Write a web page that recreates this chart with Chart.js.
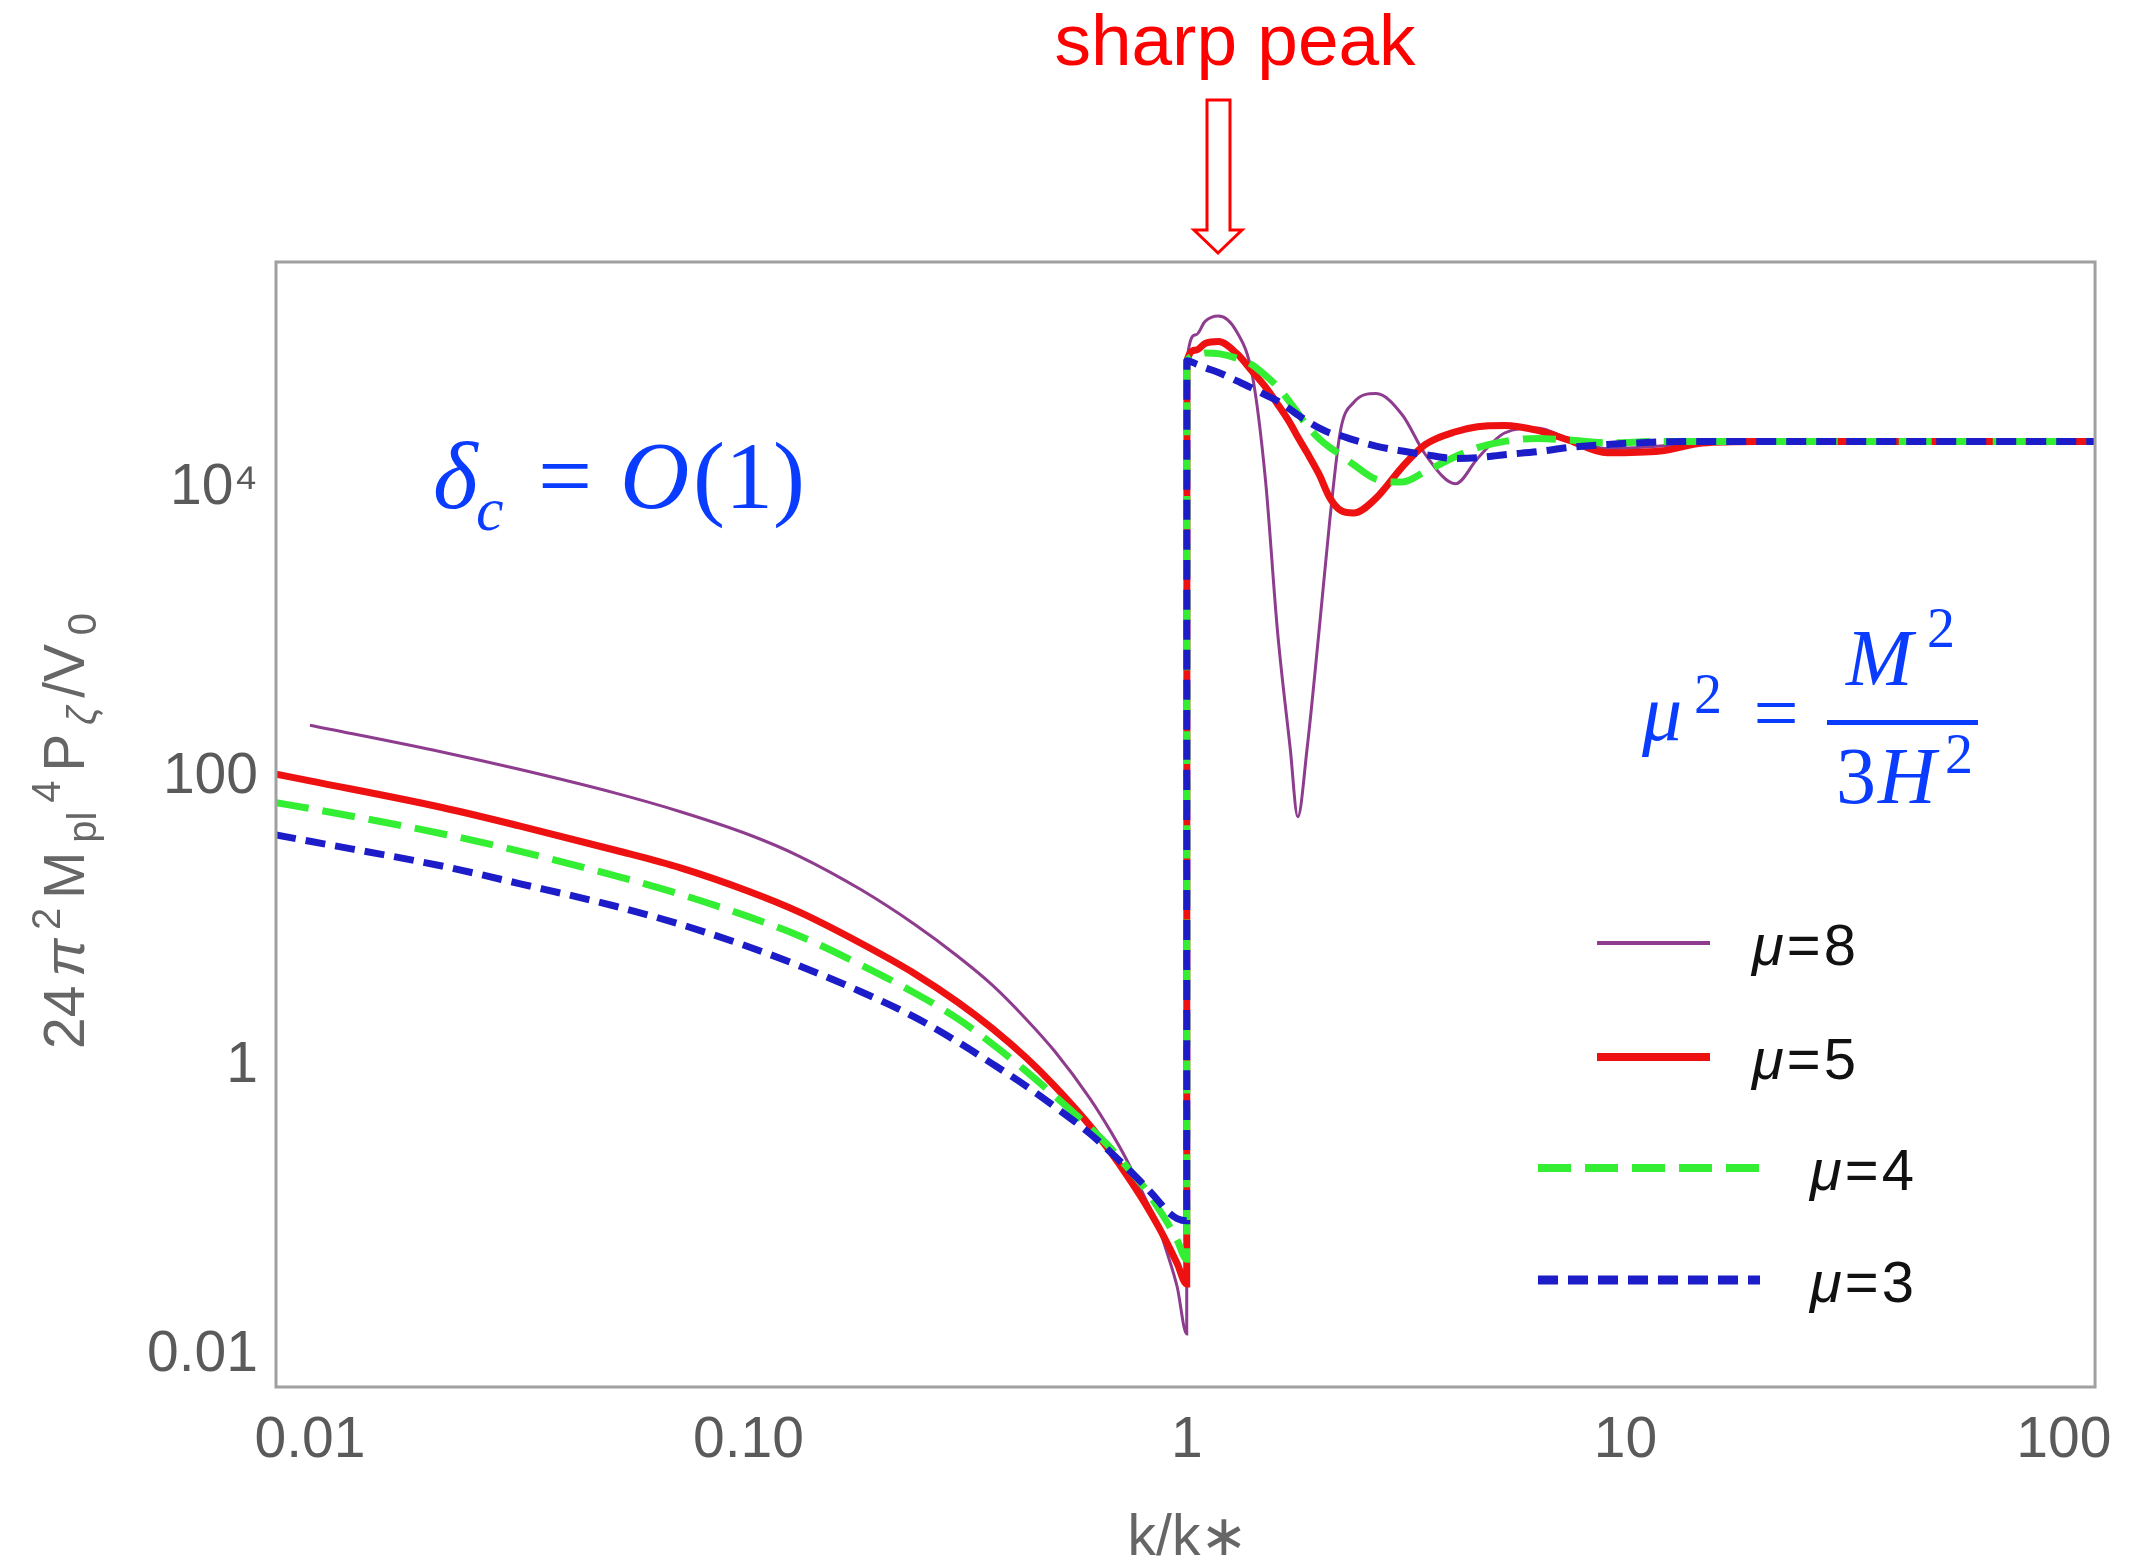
<!DOCTYPE html>
<html>
<head>
<meta charset="utf-8">
<script src="https://cdn.jsdelivr.net/npm/chart.js@4.4.1/dist/chart.umd.min.js"></script>
<style>
  html, body { margin: 0; padding: 0; background: #fff; }
  canvas { display: block; }
</style>
</head>
<body>
<canvas id="myChart" width="2132" height="1562"></canvas>
<script>
// k/k* sample points (shared by all curves)
const kValues = [0.00837, 0.01, 0.02, 0.03, 0.05, 0.07, 0.1, 0.13, 0.18, 0.24, 0.3, 0.36, 0.43, 0.5, 0.6, 0.67,
  0.73, 0.8, 0.86, 0.9, 0.95, 0.999, 1.0, 1.05, 1.1, 1.18, 1.3, 1.41, 1.51, 1.61, 1.72, 1.79, 1.88, 2.0, 2.12,
  2.24, 2.4, 2.7, 3.1, 3.5, 4.1, 4.6, 5.3, 6.3, 7.4, 9.1, 12, 15, 20, 40, 118];

// 24 pi^2 Mpl^4 P_zeta / V0 for each mu
const mu8 = [null, 228, 149, 113, 77, 57.5, 40, 28.5, 16.7, 9.5, 5.75, 3.63, 2.11, 1.26, 0.6, 0.353,
  0.222, 0.125, 0.078, 0.0516, 0.0297, 0.014, 76000, 115000, 142000, 155000, 120000, 60000, 11500, 1000, 158, 53, 158, 1000, 6200,
  25000, 39000, 45000, 32000, 17000, 10700, 16000, 24000, 26000, 22000, 18700, 19500, 20800, 21000, 21000, 21000];
const mu5 = [104.7, 94, 61.5, 45.9, 31, 23.5, 16.2, 11.7, 7.1, 4.34, 2.77, 1.82, 1.14, 0.723, 0.389, 0.253,
  0.175, 0.114, 0.078, 0.06, 0.043, 0.031, 76000, 90000, 100000, 103000, 85000, 64000, 50000, 38000, 28000, 22500, 17500, 12500, 8500,
  7000, 6700, 8500, 14000, 20000, 24500, 26500, 27000, 25000, 21500, 17500, 18000, 20500, 21000, 21000, 21000];
const mu4 = [66.4, 60.5, 40.5, 30.7, 20.6, 15.4, 10.8, 8, 5.03, 3.19, 2.13, 1.42, 0.92, 0.62, 0.376, 0.27,
  0.2, 0.144, 0.104, 0.0836, 0.0624, 0.046, 76000, 82000, 86000, 85000, 79000, 71000, 60000, 50000, 39000, 33000, 27000, 22000, 19000,
  17000, 14500, 11500, 11000, 13000, 16500, 19000, 21000, 22000, 21500, 20500, 21000, 21000, 21000, 21000, 21000];
const mu3 = [39.7, 35.9, 24.2, 18.3, 12.7, 9.55, 6.69, 4.97, 3.28, 2.17, 1.47, 1.035, 0.726, 0.522, 0.342, 0.253,
  0.197, 0.149, 0.117, 0.0995, 0.088, 0.085, 76000, 72000, 68000, 63000, 55000, 49000, 44000, 40000, 35000, 32000, 29000, 26000, 24000,
  23000, 21500, 19500, 18000, 17000, 16000, 16200, 17000, 17800, 19000, 20000, 20800, 21000, 21000, 21000, 21000];

const seriesNames = ['8', '5', '4', '3'];
const xTickValues = [0.01, 0.1, 1, 10, 100];
const xTickLabels = ['0.01', '0.10', '1', '10', '100'];
const yTickValues = [0.01, 1, 100, 10000];
const yTickLabels = ['0.01', '1', '100', '10⁴'];

const SANS = '"Liberation Sans", Arial, sans-serif';
const SERIF = '"Liberation Serif", "Times New Roman", serif';
const MATH_BLUE = '#0a3cff';

function toPoints(ys) {
  return kValues.map((k, i) => ({ x: k, y: ys[i] }));
}

// draw a run of text pieces one after another; returns the end x
function drawRich(ctx, parts, x, y, gap, measureOnly) {
  let cx = x;
  parts.forEach((p, i) => {
    ctx.font = p.font;
    if (!measureOnly) ctx.fillText(p.t, cx, y + (p.dy || 0));
    cx += ctx.measureText(p.t).width + (i < parts.length - 1 ? gap : 0);
  });
  return cx;
}

const decorations = {
  id: 'decorations',
  afterDraw(chart) {
    const ctx = chart.ctx;
    const a = chart.chartArea;
    ctx.save();

    // frame
    ctx.strokeStyle = '#a0a0a0';
    ctx.lineWidth = 3;
    ctx.strokeRect(a.left, a.top, a.right - a.left, a.bottom - a.top);

    // x title
    ctx.fillStyle = '#666';
    ctx.textAlign = 'center';
    ctx.textBaseline = 'alphabetic';
    ctx.font = '57px ' + SANS;
    ctx.fillText('k/k∗', 1188, 1555);

    // y title, rotated
    ctx.textAlign = 'left';
    const big = '57px ' + SANS, small = '40px ' + SANS;
    const yParts = [
      { t: '24', font: big }, { t: 'π', font: 'italic ' + big }, { t: '2', font: small, dy: -24 },
      { t: 'M', font: big }, { t: 'pl', font: small, dy: 12 }, { t: '4', font: small, dy: -24 },
      { t: 'P', font: big }, { t: 'ζ', font: 'italic ' + small, dy: 12 }, { t: '/V', font: big },
      { t: '0', font: small, dy: 12 }
    ];
    const w0 = drawRich(ctx, yParts, 0, 0, 0, true);
    const gap = Math.max(0, (436 - w0) / (yParts.length - 1));
    ctx.save();
    ctx.translate(84, 831);
    ctx.rotate(-Math.PI / 2);
    drawRich(ctx, yParts, -218, 0, gap, false);
    ctx.restore();

    // "sharp peak" with hollow arrow
    ctx.fillStyle = '#ff0000';
    ctx.textAlign = 'center';
    ctx.font = '73px ' + SANS;
    ctx.fillText('sharp peak', 1235, 65);
    ctx.beginPath();
    ctx.moveTo(1207, 100); ctx.lineTo(1230, 100); ctx.lineTo(1230, 230); ctx.lineTo(1242, 230);
    ctx.lineTo(1218, 253); ctx.lineTo(1194, 230); ctx.lineTo(1207, 230); ctx.closePath();
    ctx.fillStyle = '#fff';
    ctx.fill();
    ctx.strokeStyle = '#ff0000';
    ctx.lineWidth = 3;
    ctx.stroke();

    // delta_c = O(1)
    ctx.fillStyle = MATH_BLUE;
    ctx.textAlign = 'left';
    ctx.font = 'italic 96px ' + SERIF;
    ctx.fillText('δ', 433, 508);
    ctx.font = 'italic 62px ' + SERIF;
    ctx.fillText('c', 476, 530);
    ctx.font = '96px ' + SERIF;
    ctx.textAlign = 'center';
    ctx.fillText('=', 565, 508);
    ctx.textAlign = 'left';
    ctx.font = 'italic 96px ' + SERIF;
    ctx.fillText('O', 620, 508);
    ctx.font = '96px ' + SERIF;
    ctx.fillText('(1)', 693, 508);

    // mu^2 = M^2 / 3H^2
    ctx.font = 'italic 80px ' + SERIF;
    ctx.fillText('μ', 1642, 740);
    ctx.font = '56px ' + SERIF;
    ctx.fillText('2', 1694, 713);
    ctx.textAlign = 'center';
    ctx.font = '80px ' + SERIF;
    ctx.fillText('=', 1776, 740);
    ctx.textAlign = 'left';
    ctx.fillRect(1827, 720, 151, 5);
    ctx.font = 'italic 80px ' + SERIF;
    ctx.fillText('M', 1846, 685);
    ctx.font = '56px ' + SERIF;
    ctx.fillText('2', 1927, 647);
    ctx.font = '80px ' + SERIF;
    ctx.fillText('3', 1836, 803);
    ctx.font = 'italic 80px ' + SERIF;
    ctx.fillText('H', 1878, 803);
    ctx.font = '56px ' + SERIF;
    ctx.fillText('2', 1945, 773);

    // legend
    const slots = [
      { x1: 1597, x2: 1710, y: 943, tx: 1752 },
      { x1: 1597, x2: 1710, y: 1057, tx: 1752 },
      { x1: 1538, x2: 1760, y: 1168, tx: 1810 },
      { x1: 1538, x2: 1760, y: 1280, tx: 1810 }
    ];
    chart.data.datasets.forEach((ds, i) => {
      const s = slots[i];
      ctx.save();
      ctx.strokeStyle = ds.borderColor;
      ctx.lineWidth = ds.legendWidth;
      ctx.setLineDash(ds.borderDash || []);
      ctx.beginPath();
      ctx.moveTo(s.x1, s.y);
      ctx.lineTo(s.x2, s.y);
      ctx.stroke();
      ctx.restore();
      ctx.fillStyle = '#111';
      ctx.letterSpacing = '3px';
      drawRich(ctx, [
        { t: 'μ', font: 'italic 58px ' + SANS },
        { t: '=' + seriesNames[i], font: '58px ' + SANS }
      ], s.tx, s.y + 22, 0, false);
      ctx.letterSpacing = '0px';
    });

    ctx.restore();
  }
};

const ctx = document.getElementById('myChart').getContext('2d');
const myChart = new Chart(ctx, {
  type: 'line',
  data: {
    datasets: [
      { label: 'μ=8', data: toPoints(mu8), borderColor: '#8e3c8e', borderWidth: 3, legendWidth: 4, order: 3 },
      { label: 'μ=5', data: toPoints(mu5), borderColor: '#ee1111', borderWidth: 7, legendWidth: 8, order: 2 },
      { label: 'μ=4', data: toPoints(mu4), borderColor: '#33ee33', borderWidth: 7, legendWidth: 8, borderDash: [33, 14], order: 1 },
      { label: 'μ=3', data: toPoints(mu3), borderColor: '#1c1cc8', borderWidth: 7, legendWidth: 9, borderDash: [20, 10], order: 0 }
    ]
  },
  options: {
    responsive: false,
    animation: false,
    devicePixelRatio: 1,
    layout: { padding: { left: 0, right: 34, top: 262, bottom: 0 } },
    elements: {
      point: { radius: 0 },
      line: { cubicInterpolationMode: 'monotone', borderCapStyle: 'butt', fill: false }
    },
    plugins: {
      legend: { display: false },
      tooltip: { enabled: false }
    },
    scales: {
      x: {
        type: 'logarithmic',
        min: 0.008366,
        max: 117.8,
        bounds: 'data',
        grid: { display: false, drawTicks: false },
        border: { display: false },
        afterBuildTicks: s => { s.ticks = xTickValues.map(v => ({ value: v })); },
        afterFit: s => { s.height = 175; },
        ticks: {
          autoSkip: false,
          maxRotation: 0,
          padding: 20,
          color: '#5a5a5a',
          font: { family: SANS, size: 57 },
          callback: (v, i) => xTickLabels[i]
        }
      },
      y: {
        type: 'logarithmic',
        min: 0.006012,
        max: 366000,
        bounds: 'data',
        grid: { display: false, drawTicks: false },
        border: { display: false },
        afterBuildTicks: s => { s.ticks = yTickValues.map(v => ({ value: v })); },
        afterFit: s => { s.width = 276; },
        ticks: {
          autoSkip: false,
          padding: 18,
          color: '#5a5a5a',
          font: { family: SANS, size: 57 },
          callback: (v, i) => yTickLabels[i]
        }
      }
    }
  },
  plugins: [decorations]
});
</script>
</body>
</html>
